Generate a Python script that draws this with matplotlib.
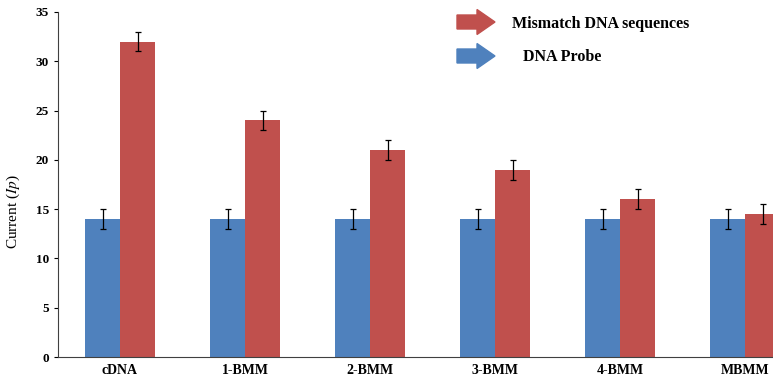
import matplotlib.pyplot as plt
import numpy as np
from matplotlib.patches import FancyArrow

# ---------------- DATA ----------------
categories = ["cDNA", "1-BMM", "2-BMM", "3-BMM", "4-BMM", "MBMM"]
probe = [14, 14, 14, 14, 14, 14]
probe_err = [1, 1, 1, 1, 1, 1]
mismatch = [32, 24, 21, 19, 16, 14.5]
mismatch_err = [1, 1, 1, 1, 1, 1]

blue = "#4f81bd"
red = "#c0504d"

plt.rcParams['font.family'] = ['Liberation Serif', 'DejaVu Serif']
plt.rcParams['mathtext.fontset'] = 'stix'

W, H = 773, 380
fig = plt.figure(figsize=(W / 100, H / 100), dpi=100)
ax = fig.add_axes([58 / W, 23 / H, (W - 58) / W, 345 / H])

x = np.arange(len(categories))
w = 0.28
ax.bar(x - w / 2, probe, w, color=blue, yerr=probe_err, capsize=2.5,
       error_kw=dict(ecolor="black", elinewidth=0.9, capthick=0.9))
ax.bar(x + w / 2, mismatch, w, color=red, yerr=mismatch_err, capsize=2.5,
       error_kw=dict(ecolor="black", elinewidth=0.9, capthick=0.9))

ax.set_xlim(-0.496, 5.224)
ax.set_ylim(0, 35)
ax.set_yticks(range(0, 36, 5))
ax.set_xticks(x)
ax.set_xticklabels(categories, fontweight="bold", fontsize=10)
ax.tick_params(axis="y", labelsize=9.5, length=3)
ax.tick_params(axis="x", length=0, pad=5)
for lbl in ax.get_yticklabels():
    lbl.set_fontweight("bold")
ax.spines["top"].set_visible(False)
ax.spines["right"].set_visible(False)
ax.spines["left"].set_color("#404040")
ax.spines["bottom"].set_color("#404040")
ax.set_ylabel("Current ($\\mathit{Ip}$)", fontsize=11)
ax.yaxis.set_label_coords(-0.051, 0.42)

# ---------------- LEGEND ARROWS ----------------
for (x0, yc, col) in [(457, 22, red), (457, 56, blue)]:
    fig.add_artist(FancyArrow(x0 / W, 1 - yc / H, 38 / W, 0, width=14 / H,
                              head_width=25 / H, head_length=18 / W,
                              length_includes_head=True, color=col,
                              transform=fig.transFigure))
fig.text(512 / W, 1 - 24 / H, "Mismatch DNA sequences", fontsize=11.5,
         fontweight="bold", va="center")
fig.text(523 / W, 1 - 57 / H, "DNA Probe", fontsize=11.5,
         fontweight="bold", va="center")

fig.savefig("out.png", dpi=100)
